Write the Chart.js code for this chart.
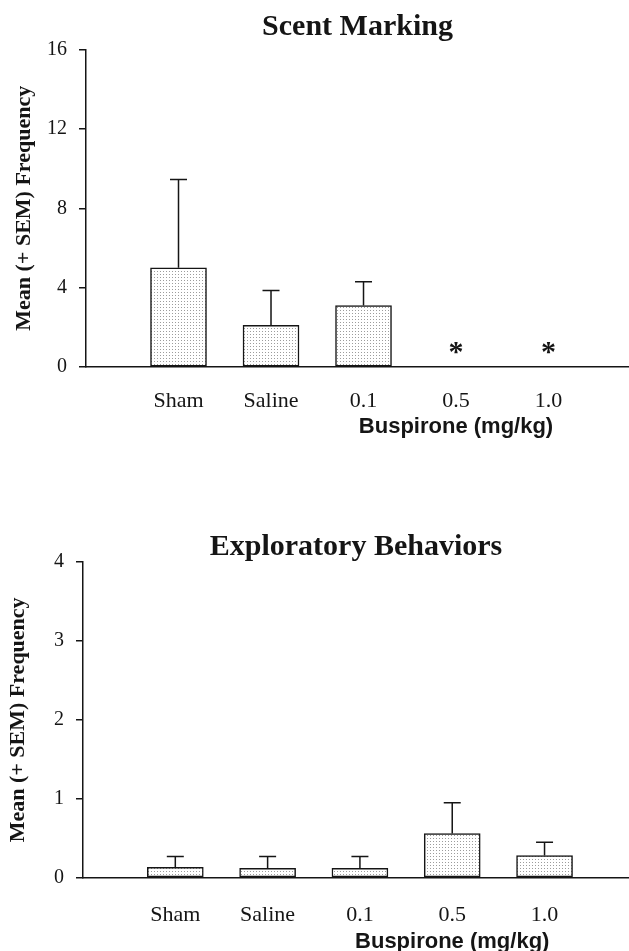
<!DOCTYPE html>
<html>
<head>
<meta charset="utf-8">
<title>Scent Marking / Exploratory Behaviors</title>
<script src="https://cdn.jsdelivr.net/npm/chart.js@4.4.1/dist/chart.umd.min.js"></script>
<style>
  body { margin: 0; background: #fff; }
  #scentChart { position: absolute; left: 0; top: 0; }
  #exploreChart { position: absolute; left: 0; top: 480px; }
</style>
</head>
<body>
<canvas id="scentChart" width="629" height="450"></canvas>
<canvas id="exploreChart" width="629" height="471"></canvas>
<script>
// data
const categories = ['Sham', 'Saline', '0.1', '0.5', '1.0'];
const scentMean = [5.0, 2.1, 3.1, 0, 0];
const scentSem = [4.45, 1.75, 1.2, 0, 0];
const scentSig = [false, false, false, true, true];
const scentTicks = [0, 4, 8, 12, 16];
const exploreMean = [0.13, 0.12, 0.12, 0.56, 0.28];
const exploreSem = [0.14, 0.15, 0.15, 0.39, 0.17];
const exploreSig = [false, false, false, false, false];
const exploreTicks = [0, 1, 2, 3, 4];

const SERIF = '"Liberation Serif", "Times New Roman", serif';
const SANS = '"Liberation Sans", Arial, sans-serif';
const INK = '#151515';

// stippled bar fill
function dotPattern() {
    const c = document.createElement('canvas');
    c.width = 3; c.height = 3;
    const g = c.getContext('2d');
    g.fillStyle = '#fff';
    g.fillRect(0, 0, 3, 3);
    g.fillStyle = '#9c9c9c';
    g.fillRect(1, 1, 1, 1);
    return g.createPattern(c, 'repeat');
}

// error bars, significance stars and the x axis title
const extras = {
    id: 'extras',
    afterDatasetsDraw(chart, args, opts) {
        const {ctx, scales: {x, y}} = chart;
        ctx.save();
        ctx.strokeStyle = INK;
        ctx.lineWidth = 1.5;
        opts.mean.forEach((m, i) => {
            const s = opts.sem[i];
            if (!s) return;
            const px = x.getPixelForValue(i + 1);
            const y0 = y.getPixelForValue(m);
            const y1 = y.getPixelForValue(m + s);
            ctx.beginPath();
            ctx.moveTo(px, y0);
            ctx.lineTo(px, y1);
            ctx.moveTo(px - 8.5, y1);
            ctx.lineTo(px + 8.5, y1);
            ctx.stroke();
        });

        ctx.fillStyle = INK;
        ctx.textAlign = 'center';
        ctx.textBaseline = 'alphabetic';
        ctx.font = 'bold 30px ' + SERIF;
        opts.sig.forEach((s, i) => {
            if (s) ctx.fillText('*', x.getPixelForValue(i + 1), y.getPixelForValue(0) - 6);
        });

        ctx.font = 'bold 22px ' + SANS;
        ctx.fillText('Buspirone (mg/kg)', x.getPixelForValue(4), y.getPixelForValue(0) + opts.xTitleOffset);
        ctx.restore();
    }
};

function makeChart(id, title, mean, sem, sig, ticks, lay) {
    const ctx = document.getElementById(id).getContext('2d');
    return new Chart(ctx, {
        type: 'bar',
        data: {
            datasets: [{
                data: mean.map((v, i) => ({x: i + 1, y: v})),
                backgroundColor: dotPattern(),
                borderColor: INK,
                borderWidth: 1.5,
                borderSkipped: false,
                barThickness: 56
            }]
        },
        options: {
            responsive: false,
            animation: false,
            layout: { padding: 0 },
            scales: {
                x: {
                    type: 'linear',
                    min: 0,
                    max: lay.xMax,
                    offset: false,
                    grid: { display: false, offset: false },
                    border: { display: true, color: INK, width: 1.5 },
                    afterBuildTicks: (scale) => {
                        scale.ticks = categories.map((c, i) => ({value: i + 1}));
                    },
                    afterFit: (scale) => { scale.height = lay.xHeight; },
                    ticks: {
                        autoSkip: false,
                        maxRotation: 0,
                        padding: lay.xTickPad,
                        color: INK,
                        font: { family: SERIF, size: 22 },
                        callback: (v) => categories[v - 1]
                    }
                },
                y: {
                    min: ticks[0],
                    max: ticks[ticks.length - 1],
                    afterBuildTicks: (scale) => {
                        scale.ticks = ticks.map(v => ({value: v}));
                    },
                    afterFit: (scale) => { scale.width = lay.yWidth; },
                    grid: {
                        drawOnChartArea: false,
                        drawTicks: true,
                        tickLength: 7,
                        color: INK,
                        lineWidth: 1.5
                    },
                    border: { display: true, color: INK, width: 1.5 },
                    ticks: {
                        padding: 12,
                        color: INK,
                        font: { family: SERIF, size: 20 }
                    },
                    title: {
                        display: true,
                        text: 'Mean (+ SEM) Frequency',
                        color: INK,
                        padding: { top: lay.yTitlePad, bottom: 0 },
                        font: { family: SERIF, size: 22, weight: 'bold' }
                    }
                }
            },
            plugins: {
                legend: { display: false },
                tooltip: { enabled: false },
                title: {
                    display: true,
                    text: title,
                    fullSize: false,
                    color: INK,
                    padding: lay.titlePad,
                    font: { family: SERIF, size: 30, weight: 'bold', lineHeight: 1 }
                },
                extras: { mean: mean, sem: sem, sig: sig, xTitleOffset: lay.xTitleOffset }
            }
        },
        plugins: [extras]
    });
}

makeChart('scentChart', 'Scent Marking', scentMean, scentSem, scentSig, scentTicks, {
    xMax: 5.87, xHeight: 83, xTickPad: 13, yWidth: 86, yTitlePad: 11,
    titlePad: { top: 12, bottom: 7.5 }, xTitleOffset: 66
});

makeChart('exploreChart', 'Exploratory Behaviors', exploreMean, exploreSem, exploreSig, exploreTicks, {
    xMax: 5.915, xHeight: 73.3, xTickPad: 16, yWidth: 83, yTitlePad: 5,
    titlePad: { top: 52, bottom: 0 }, xTitleOffset: 70
});
</script>
</body>
</html>
